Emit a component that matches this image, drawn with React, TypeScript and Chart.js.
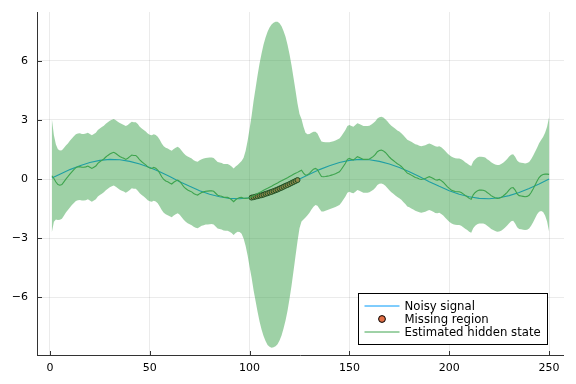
import { useEffect, useRef } from "react";
import { Chart, registerables } from "chart.js";

Chart.register(...registerables);

// ---- data ----
const blueX = [1, 5, 10, 15, 20, 25, 30, 35, 40, 45, 50, 55, 60, 65, 70, 75, 80, 85, 90, 95, 100, 105, 110, 115, 120, 125,
  130, 135, 140, 145, 150, 155, 160, 165, 170, 175, 180, 185, 190, 195, 200, 205, 210, 215, 220, 225, 230, 235, 240, 245, 250];
const blueY = [0.05, 0.25, 0.48, 0.68, 0.84, 0.95, 1.0, 0.98, 0.9, 0.77, 0.59, 0.37, 0.13, -0.13, -0.37, -0.59, -0.77, -0.9, -0.98, -1.0, -0.95, -0.84, -0.68, -0.48, -0.25, 0.0,
  0.25, 0.48, 0.68, 0.84, 0.95, 1.0, 0.98, 0.9, 0.77, 0.59, 0.37, 0.13, -0.13, -0.37, -0.59, -0.77, -0.9, -0.98, -1.0, -0.95, -0.84, -0.68, -0.48, -0.25, 0.0];

const missX = [101, 102, 103, 104, 105, 106, 107, 108, 109, 110, 111, 112, 113, 114, 115, 116, 117, 118, 119, 120, 121, 122, 123, 124];
const missY = [-0.94, -0.92, -0.89, -0.87, -0.84, -0.82, -0.79, -0.75, -0.72, -0.68, -0.65, -0.61, -0.57, -0.53, -0.48, -0.44, -0.39, -0.34, -0.3, -0.25, -0.2, -0.15, -0.1, -0.05];

// estimated hidden state, x = 1..250
const estY = [
  0.17, 0.03, -0.15, -0.28, -0.31, -0.28, -0.14, 0.0, 0.12, 0.25,
  0.37, 0.48, 0.58, 0.62, 0.63, 0.6, 0.6, 0.62, 0.66, 0.6,
  0.54, 0.6, 0.66, 0.8, 0.88, 0.95, 1.02, 1.12, 1.2, 1.27,
  1.32, 1.36, 1.3, 1.22, 1.15, 1.1, 1.06, 1.0, 1.06, 1.14,
  1.22, 1.2, 1.2, 1.1, 0.97, 0.88, 0.8, 0.72, 0.62, 0.56,
  0.54, 0.59, 0.55, 0.46, 0.3, 0.12, -0.02, -0.1, -0.14, -0.2,
  -0.25, -0.16, -0.1, -0.05, -0.12, -0.25, -0.38, -0.48, -0.55, -0.6,
  -0.65, -0.73, -0.78, -0.81, -0.74, -0.68, -0.65, -0.62, -0.61, -0.6,
  -0.59, -0.62, -0.72, -0.82, -0.85, -0.87, -0.92, -0.93, -0.93, -0.98,
  -1.05, -1.15, -1.05, -0.98, -0.94, -0.93, -0.97, -0.98, -0.97, -0.95,
  -0.9, -0.84, -0.79, -0.73, -0.68, -0.63, -0.57, -0.52, -0.47, -0.41,
  -0.36, -0.3, -0.25, -0.2, -0.14, -0.09, -0.03, 0.02, 0.07, 0.13,
  0.18, 0.24, 0.29, 0.34, 0.4, 0.45, 0.3, 0.2, 0.22, 0.29,
  0.4, 0.5, 0.54, 0.48, 0.3, 0.13, 0.12, 0.13, 0.15, 0.17,
  0.2, 0.23, 0.27, 0.32, 0.37, 0.5, 0.65, 0.8, 1.0, 1.05,
  1.0, 0.97, 1.05, 1.14, 1.1, 1.05, 1.0, 1.0, 1.0, 1.02,
  1.08, 1.15, 1.25, 1.39, 1.45, 1.47, 1.43, 1.35, 1.24, 1.12,
  1.02, 0.94, 0.86, 0.78, 0.72, 0.64, 0.53, 0.42, 0.3, 0.26,
  0.2, 0.14, 0.08, 0.05, 0.0, -0.02, 0.0, 0.03, 0.08, 0.12,
  0.08, 0.03, -0.03, -0.05, -0.02, -0.08, -0.16, -0.27, -0.38, -0.47,
  -0.55, -0.6, -0.63, -0.64, -0.64, -0.68, -0.75, -0.83, -0.9, -0.98,
  -1.03, -0.8, -0.68, -0.6, -0.56, -0.56, -0.57, -0.6, -0.68, -0.75,
  -0.84, -0.9, -0.95, -0.98, -0.97, -0.93, -0.86, -0.77, -0.67, -0.55,
  -0.45, -0.43, -0.56, -0.75, -0.84, -0.86, -0.88, -0.9, -0.88, -0.82,
  -0.68, -0.5, -0.3, -0.1, 0.08, 0.18, 0.23, 0.25, 0.25, 0.24,
];

// half-width of the uncertainty ribbon, x = 1..250
const estSpread = [
  2.85, 2.2, 1.9, 1.8, 1.76, 1.74, 1.72, 1.7, 1.69, 1.69,
  1.69, 1.69, 1.69, 1.69, 1.69, 1.69, 1.69, 1.69, 1.69, 1.69,
  1.69, 1.69, 1.69, 1.69, 1.69, 1.69, 1.69, 1.69, 1.69, 1.69,
  1.69, 1.69, 1.69, 1.69, 1.69, 1.69, 1.69, 1.69, 1.69, 1.69,
  1.69, 1.69, 1.69, 1.69, 1.69, 1.69, 1.69, 1.69, 1.69, 1.69,
  1.69, 1.69, 1.69, 1.69, 1.69, 1.69, 1.69, 1.69, 1.69, 1.69,
  1.69, 1.69, 1.69, 1.69, 1.69, 1.69, 1.69, 1.69, 1.69, 1.69,
  1.69, 1.69, 1.69, 1.69, 1.69, 1.69, 1.69, 1.69, 1.69, 1.69,
  1.69, 1.69, 1.69, 1.69, 1.69, 1.69, 1.69, 1.69, 1.69, 1.69,
  1.69, 1.69, 1.69, 1.69, 1.75, 1.85, 2.05, 2.4, 2.9, 3.5,
  4.1, 4.8, 5.4, 6.0, 6.55, 7.0, 7.4, 7.7, 7.95, 8.1,
  8.2, 8.24, 8.24, 8.18, 8.05, 7.85, 7.55, 7.2, 6.75, 6.2,
  5.6, 4.9, 4.2, 3.5, 2.9, 2.6, 2.35, 2.15, 2.05, 2.0,
  1.95, 1.9, 1.86, 1.83, 1.8, 1.78, 1.76, 1.74, 1.72, 1.7,
  1.69, 1.69, 1.69, 1.69, 1.69, 1.69, 1.69, 1.69, 1.69, 1.69,
  1.69, 1.69, 1.69, 1.69, 1.69, 1.69, 1.69, 1.69, 1.69, 1.69,
  1.69, 1.69, 1.69, 1.69, 1.69, 1.69, 1.69, 1.69, 1.69, 1.69,
  1.69, 1.69, 1.69, 1.69, 1.69, 1.69, 1.69, 1.69, 1.69, 1.69,
  1.69, 1.69, 1.69, 1.69, 1.69, 1.69, 1.69, 1.69, 1.69, 1.69,
  1.69, 1.69, 1.69, 1.69, 1.69, 1.69, 1.69, 1.69, 1.69, 1.69,
  1.69, 1.69, 1.69, 1.69, 1.69, 1.69, 1.69, 1.69, 1.69, 1.69,
  1.69, 1.69, 1.69, 1.69, 1.69, 1.69, 1.69, 1.69, 1.69, 1.69,
  1.69, 1.69, 1.69, 1.69, 1.69, 1.69, 1.69, 1.69, 1.69, 1.69,
  1.69, 1.69, 1.69, 1.69, 1.69, 1.69, 1.69, 1.69, 1.69, 1.69,
  1.69, 1.69, 1.69, 1.69, 1.74, 1.8, 1.9, 2.1, 2.4, 2.9,
];

const xTicks = [0, 50, 100, 150, 200, 250];
const yTicks = [-6, -3, 0, 3, 6];
const legendLabels = ["Noisy signal", "Missing region", "Estimated hidden state"];

const BLUE = "#009AFA";
const ORANGE = "#E26F46";
const GREEN = "#3EA44E";
const RIBBON = "rgba(62,164,78,0.5)";
const FONT = "DejaVu Sans";

const fmt = (v: number) => (v < 0 ? "\u2212" + Math.abs(v) : String(v));

// draws the ribbon between the "upper" and "lower" datasets, right after the markers and
// before the green line, so it covers the blue line and the markers like the reference
const ribbonPlugin = {
  id: "ribbon",
  beforeDatasetDraw(chart: any, args: any) {
    if (args.index !== 0) return;
    const { ctx, chartArea, scales } = chart;
    const up = chart.data.datasets[1].data as { x: number; y: number }[];
    const lo = chart.data.datasets[2].data as { x: number; y: number }[];
    ctx.save();
    ctx.beginPath();
    ctx.rect(chartArea.left, chartArea.top, chartArea.right - chartArea.left, chartArea.bottom - chartArea.top);
    ctx.clip();
    ctx.beginPath();
    up.forEach((p, i) => {
      const px = scales.x.getPixelForValue(p.x);
      const py = scales.y.getPixelForValue(p.y);
      if (i === 0) ctx.moveTo(px, py);
      else ctx.lineTo(px, py);
    });
    for (let i = lo.length - 1; i >= 0; i--) {
      ctx.lineTo(scales.x.getPixelForValue(lo[i].x), scales.y.getPixelForValue(lo[i].y));
    }
    ctx.closePath();
    ctx.fillStyle = RIBBON;
    ctx.fill();
    ctx.restore();
  },
};

const axesPlugin = {
  id: "axesDeco",
  afterDatasetsDraw(chart: any) {
    const { ctx, chartArea, scales } = chart;
    const { left, right, top, bottom } = chartArea;
    ctx.save();
    ctx.strokeStyle = "#333";
    ctx.lineWidth = 1;
    ctx.beginPath();
    ctx.moveTo(left + 0.5, top);
    ctx.lineTo(left + 0.5, bottom);
    ctx.moveTo(left, bottom - 0.5);
    ctx.lineTo(right, bottom - 0.5);
    for (const v of yTicks) {
      const y = Math.round(scales.y.getPixelForValue(v)) + 0.5;
      ctx.moveTo(left, y);
      ctx.lineTo(left + 5, y);
    }
    for (const v of xTicks) {
      const x = Math.round(scales.x.getPixelForValue(v)) + 0.5;
      ctx.moveTo(x, bottom);
      ctx.lineTo(x, bottom - 5);
    }
    ctx.stroke();
    ctx.restore();
  },
};

const legendPlugin = {
  id: "customLegend",
  afterDraw(chart: any) {
    const { ctx, chartArea } = chart;
    const w = 189;
    const h = 51;
    const x0 = Math.round(chartArea.right - 17.5 - w) + 0.5;
    const y0 = Math.round(chartArea.bottom - 12 - h) + 0.5;
    ctx.save();
    ctx.fillStyle = "#fff";
    ctx.fillRect(x0, y0, w, h);
    ctx.strokeStyle = "#000";
    ctx.lineWidth = 1;
    ctx.strokeRect(x0, y0, w, h);
    const rows = [y0 + 12.5, y0 + 25.5, y0 + 38.5];
    const lx0 = x0 + 6;
    const lx1 = x0 + 41;
    ctx.lineWidth = 1;
    ctx.strokeStyle = BLUE;
    ctx.beginPath();
    ctx.moveTo(lx0, rows[0]);
    ctx.lineTo(lx1, rows[0]);
    ctx.stroke();
    ctx.strokeStyle = GREEN;
    ctx.beginPath();
    ctx.moveTo(lx0, rows[2]);
    ctx.lineTo(lx1, rows[2]);
    ctx.stroke();
    ctx.fillStyle = ORANGE;
    ctx.strokeStyle = "#000";
    ctx.beginPath();
    ctx.arc((lx0 + lx1) / 2, rows[1], 3.4, 0, Math.PI * 2);
    ctx.fill();
    ctx.stroke();
    ctx.fillStyle = "#000";
    ctx.font = `11.7px "${FONT}"`;
    ctx.textBaseline = "middle";
    ctx.textAlign = "left";
    legendLabels.forEach((t, i) => ctx.fillText(t, x0 + 46, rows[i] + 0.5));
    ctx.restore();
  },
};

export default function App() {
  const ref = useRef<HTMLCanvasElement>(null);
  useEffect(() => {
    if (!ref.current) return;
    const estPts = estY.map((y, i) => ({ x: i + 1, y }));
    const upper = estY.map((y, i) => ({ x: i + 1, y: y + estSpread[i] }));
    const lower = estY.map((y, i) => ({ x: i + 1, y: y - estSpread[i] }));
    const bluePts = blueX.map((x, i) => ({ x, y: blueY[i] }));
    const missPts = missX.map((x, i) => ({ x, y: missY[i] }));

    const chart = new Chart(ref.current, {
      type: "line",
      data: {
        datasets: [
          {
            label: legendLabels[2],
            data: estPts,
            borderColor: GREEN,
            borderWidth: 1.1,
            pointRadius: 0,
            fill: false,
            tension: 0,
          },
          {
            label: "upper",
            data: upper,
            showLine: false,
            pointRadius: 0,
            fill: false,
          },
          {
            label: "lower",
            data: lower,
            showLine: false,
            pointRadius: 0,
            fill: false,
          },
          {
            label: legendLabels[1],
            data: missPts,
            showLine: false,
            pointRadius: 2.5,
            pointBackgroundColor: ORANGE,
            pointBorderColor: "#000",
            pointBorderWidth: 1,
            fill: false,
          },
          {
            label: legendLabels[0],
            data: bluePts,
            borderColor: BLUE,
            borderWidth: 1.1,
            pointRadius: 0,
            fill: false,
            tension: 0,
          },
        ],
      } as any,
      options: {
        responsive: false,
        maintainAspectRatio: false,
        devicePixelRatio: 1,
        animation: false,
        events: [],
        layout: { padding: { left: 0, right: 12, top: 12, bottom: 0 } },
        plugins: { legend: { display: false }, tooltip: { enabled: false } },
        scales: {
          x: {
            type: "linear",
            min: -6.47,
            max: 257.47,
            afterBuildTicks: (s: any) => {
              s.ticks = xTicks.map((v) => ({ value: v }));
            },
            afterFit: (s: any) => {
              s.height = 28;
              s.paddingLeft = 0;
              s.paddingRight = 0;
            },
            grid: { color: "rgba(0,0,0,0.08)", lineWidth: 1, drawTicks: false },
            border: { display: false },
            ticks: {
              padding: 6,
              color: "#000",
              font: { size: 11, family: FONT },
              maxRotation: 0,
              autoSkip: false,
              callback: (v: any) => fmt(Number(v)),
            },
          },
          y: {
            type: "linear",
            min: -8.98,
            max: 8.48,
            afterBuildTicks: (s: any) => {
              s.ticks = yTicks.map((v) => ({ value: v }));
            },
            afterFit: (s: any) => {
              s.width = 37;
              s.paddingTop = 0;
              s.paddingBottom = 0;
            },
            grid: { color: "rgba(0,0,0,0.08)", lineWidth: 1, drawTicks: false },
            border: { display: false },
            ticks: {
              padding: 9,
              color: "#000",
              font: { size: 11, family: FONT },
              autoSkip: false,
              callback: (v: any) => fmt(Number(v)),
            },
          },
        },
      } as any,
      plugins: [ribbonPlugin, axesPlugin, legendPlugin],
    });
    return () => chart.destroy();
  }, []);

  return (
    <div style={{ position: "fixed", left: 0, top: 0, width: 576, height: 384, background: "#fff" }}>
      <canvas ref={ref} width={576} height={384} style={{ display: "block", width: 576, height: 384 }} />
    </div>
  );
}
